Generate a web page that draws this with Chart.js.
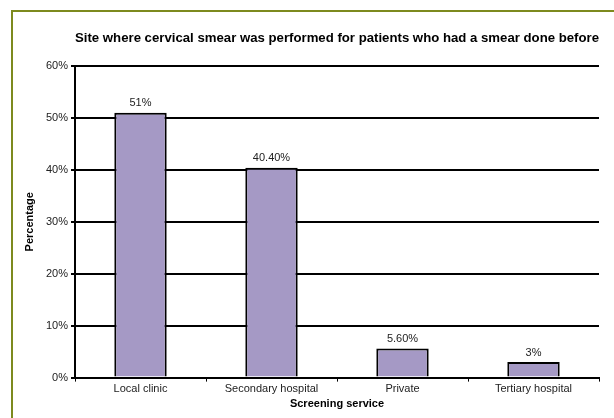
<!DOCTYPE html>
<html>
<head>
<meta charset="utf-8">
<script src="https://cdn.jsdelivr.net/npm/chart.js@4"></script>
<style>
  html, body { margin: 0; padding: 0; background: #fff; }
  #wrap { position: relative; width: 614px; height: 418px; }
  #frame {
    position: absolute; left: 11px; top: 10px; right: -4px; bottom: -4px;
    border-left: 2px solid #7d8a1e; border-top: 2px solid #7d8a1e;
  }
  canvas { position: absolute; left: 0; top: 0; }
</style>
</head>
<body>
<div id="wrap">
  <div id="frame"></div>
  <canvas id="chart" width="614" height="418"></canvas>
</div>
<script>
const categories = ['Local clinic', 'Secondary hospital', 'Private', 'Tertiary hospital'];
const percentages = [51, 40.4, 5.6, 3];
const valueLabels = ['51%', '40.40%', '5.60%', '3%'];
const yTicks = [0, 10, 20, 30, 40, 50, 60];

const fontFamily = '"Liberation Sans", Arial, sans-serif';

const barValueLabels = {
  id: 'barValueLabels',
  afterDatasetsDraw(chart) {
    const ctx = chart.ctx;
    const meta = chart.getDatasetMeta(0);
    ctx.save();
    ctx.font = '11px ' + fontFamily;
    ctx.fillStyle = '#222';
    ctx.textAlign = 'center';
    ctx.textBaseline = 'bottom';
    meta.data.forEach((bar, i) => {
      ctx.fillText(valueLabels[i], bar.x, bar.y - 4);
    });
    ctx.restore();
  }
};

new Chart(document.getElementById('chart'), {
  type: 'bar',
  data: {
    labels: categories,
    datasets: [{
      data: percentages,
      backgroundColor: '#a599c5',
      borderColor: '#000',
      borderWidth: 2,
      categoryPercentage: 0.4,
      barPercentage: 1.0
    }]
  },
  options: {
    responsive: false,
    animation: false,
    layout: { padding: { left: 18, right: 15, top: 8, bottom: 7 } },
    plugins: {
      legend: { display: false },
      tooltip: { enabled: false },
      title: {
        display: true,
        fullSize: false,
        text: 'Site where cervical smear was performed for patients who had a smear done before',
        color: '#000',
        font: { family: fontFamily, size: 13.3, weight: 'bold' },
        padding: { top: 22, bottom: 20 }
      }
    },
    scales: {
      x: {
        border: { color: '#000', width: 2 },
        grid: { drawOnChartArea: false, drawTicks: true, tickLength: 4, color: '#000', lineWidth: 1 },
        ticks: { color: '#222', font: { family: fontFamily, size: 11 }, padding: 1, maxRotation: 0 },
        title: {
          display: true,
          text: 'Screening service',
          color: '#000',
          font: { family: fontFamily, size: 11, weight: 'bold' },
          padding: { top: 1, bottom: 0 }
        }
      },
      y: {
        min: 0,
        max: 60,
        afterBuildTicks(scale) {
          scale.ticks = yTicks.map(v => ({ value: v }));
        },
        afterFit(scale) {
          scale.width = 57;
        },
        border: { color: '#000', width: 2 },
        grid: { color: '#000', lineWidth: 2, tickLength: 4 },
        ticks: {
          color: '#222',
          font: { family: fontFamily, size: 11 },
          padding: 3,
          callback: v => v + '%'
        },
        title: {
          display: true,
          text: 'Percentage',
          color: '#000',
          font: { family: fontFamily, size: 11, weight: 'bold' },
          padding: { top: 5, bottom: 8 }
        }
      }
    }
  },
  plugins: [barValueLabels]
});
</script>
</body>
</html>
